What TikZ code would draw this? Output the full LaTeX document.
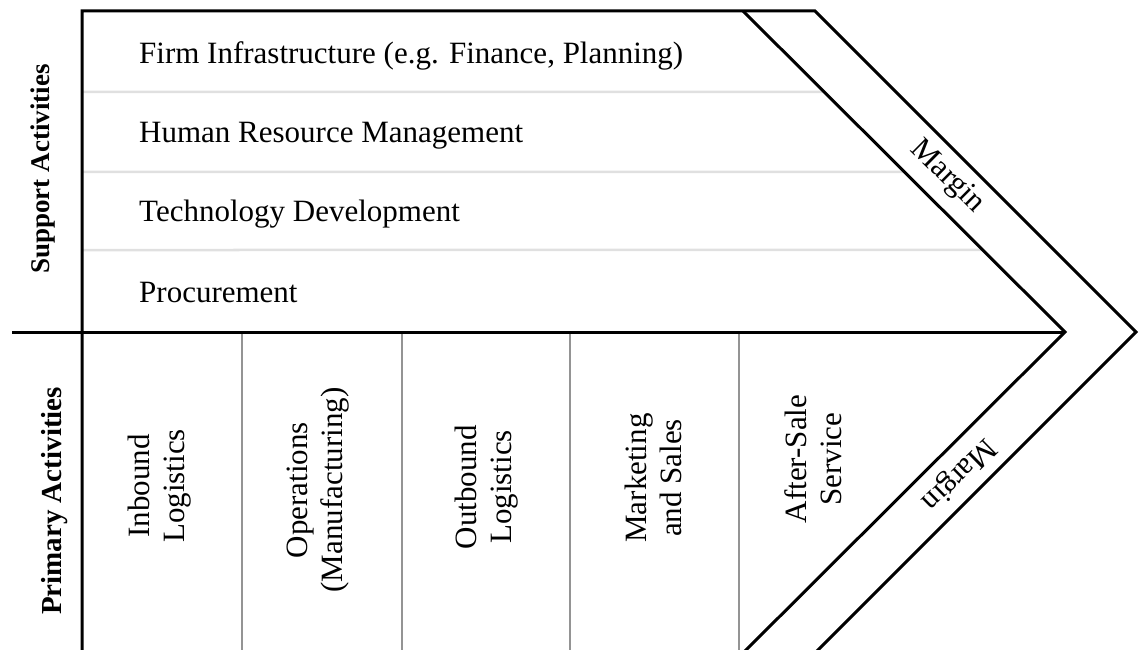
\documentclass[tikz,border=0pt]{standalone}
\usepackage{fontspec}
\setmainfont{Liberation Serif}
\usetikzlibrary{calc}

\tikzset{
  heavy/.style={line width=3pt, black, line join=miter},
  rowrule/.style={line width=2.5pt, black!12},
  colrule/.style={line width=1.3pt, black!42},
  rowlabel/.style={anchor=base west, inner sep=0pt, font=\fontsize{31}{35}\selectfont},
  collabel/.style={rotate=90, align=center, inner sep=0pt, font=\fontsize{31}{35}\selectfont},
  sidelabel/.style={rotate=90, anchor=base, inner sep=0pt},
  marginlabel/.style={inner sep=0pt, font=\fontsize{31}{35}\selectfont}
}

\begin{document}
\begin{tikzpicture}[x=1pt, y=-1pt]
\useasboundingbox (0,0) rectangle (1141,650);

% key points of the frame and the two chevrons
\coordinate (bl) at (82,650);
\coordinate (tl) at (82,11);
\coordinate (ia) at (743,11);
\coordinate (itip) at (1065,332);
\coordinate (ib) at (743,653);
\coordinate (oa) at (815,11);
\coordinate (otip) at (1136,332);
\coordinate (ob) at (815,653);
\coordinate (split) at (12,332);

% light rules between the support rows, ending on the inner chevron
\foreach \yy in {92,172,250} {
  \draw[rowrule] (82,\yy) -- ($(ia)!{(\yy-11)/321}!(itip)$);
}

% dividers between the primary activities
\foreach \xx in {242,402,570,739} {
  \draw[colrule] (\xx,334) -- (\xx,650);
}

% outline: left edge, top edge and outer chevron
\draw[heavy] (bl) -- (tl) -- (oa) -- (otip) -- (ob);
% inner chevron
\draw[heavy] (ia) -- (itip) -- (ib);
% separation of support and primary activities
\draw[heavy] (split) -- (itip);

% side headings
\node[sidelabel, font=\fontsize{27}{30}\selectfont\bfseries] (support) at (49,169) {Support Activities};
\node[sidelabel, font=\fontsize{29}{32}\selectfont\bfseries] (primary) at (61,501) {Primary Activities};

% support activities
\node[rowlabel] (infra) at (139,64) {Firm Infrastructure (e.g. Finance, Planning)};
\node[rowlabel] (hrm) at (139,143) {Human Resource Management};
\node[rowlabel] (tech) at (139,222) {Technology Development};
\node[rowlabel] (proc) at (139,302) {Procurement};

% primary activities
\node[collabel] (inbound) at (160,486) {Inbound\\Logistics};
\node[collabel] (ops) at (318,490) {Operations\\(Manufacturing)};
\node[collabel] (outbound) at (487,487) {Outbound\\Logistics};
\node[collabel] (mkt) at (653,478) {Marketing\\and Sales};
\node[collabel] (service) at (813,459) {After-Sale\\Service};

% margin band
\node[marginlabel, rotate=-44.7] (mtop) at (947,177) {Margin};
\node[marginlabel, rotate=224.5] (mbot) at (958,474) {Margin};
\end{tikzpicture}
\end{document}
